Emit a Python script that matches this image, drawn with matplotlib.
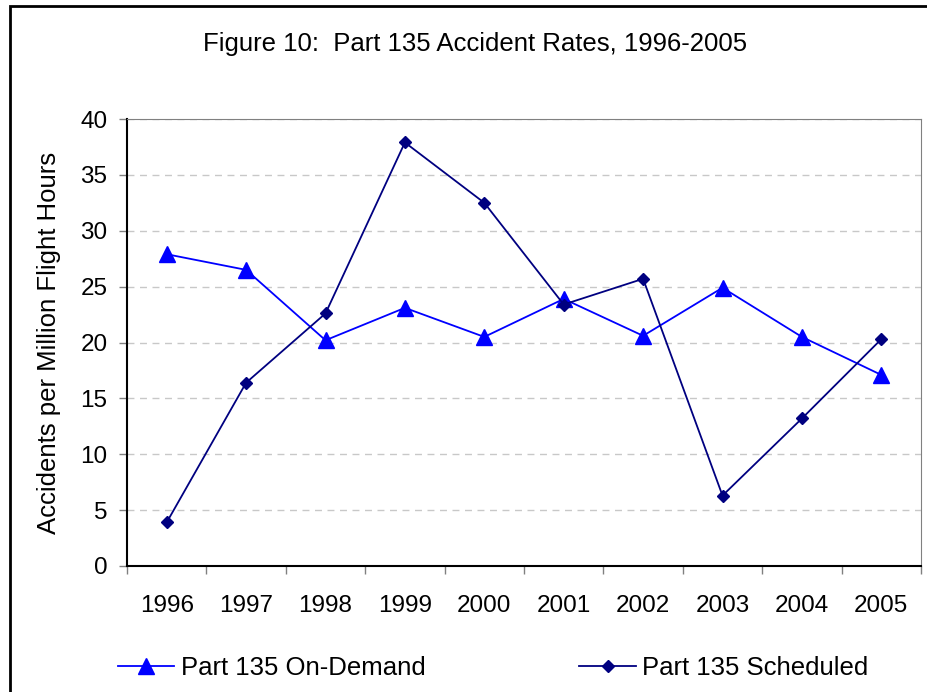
import numpy as np
import matplotlib.pyplot as plt
from matplotlib.patches import Rectangle

plt.rcParams['font.family'] = ['Liberation Sans', 'DejaVu Sans']

# Data
years = ['1996', '1997', '1998', '1999', '2000', '2001', '2002', '2003', '2004', '2005']
on_demand = [27.9, 26.5, 20.2, 23.1, 20.5, 23.9, 20.6, 24.9, 20.5, 17.1]
scheduled = [3.9, 16.4, 22.6, 37.9, 32.5, 23.4, 25.7, 6.3, 13.2, 20.3]

fig = plt.figure(figsize=(9.27, 6.92), dpi=100)
ax = fig.add_axes([127 / 927, 1 - 566 / 692, (921 - 127) / 927, (566 - 119) / 692])

x = np.arange(len(years))
ax.plot(x, on_demand, color='#0000ff', lw=1.3, marker='^', ms=12,
        label='Part 135 On-Demand')
ax.plot(x, scheduled, color='#000080', lw=1.3, marker='D', ms=6.5,
        label='Part 135 Scheduled')

ax.set_xlim(-0.5, len(years) - 0.5)
ax.set_ylim(0, 40)
ax.set_yticks(np.arange(0, 41, 5))
ax.set_xticks(x)
ax.set_xticklabels(years)
ax.set_xticks(np.arange(-0.5, len(years), 1), minor=True)
ax.tick_params(axis='x', which='major', length=0, pad=21, labelsize=17.5)
ax.tick_params(axis='x', which='minor', length=6, width=1, color='#808080')
ax.tick_params(axis='y', length=6, width=1, color='#808080', labelsize=17.5, pad=8)
ax.yaxis.grid(True, linestyle=(0, (5, 4)), color='#c8c8c8', lw=1)
ax.set_axisbelow(True)

for side in ['top', 'right']:
    ax.spines[side].set_color('#808080')
for side in ['left', 'bottom']:
    ax.spines[side].set_color('black')
    ax.spines[side].set_linewidth(1.5)

ax.set_ylabel('Accidents per Million Flight Hours', fontsize=18.5, labelpad=14)

fig.text(475 / 927, 1 - 44 / 692, 'Figure 10:  Part 135 Accident Rates, 1996-2005',
         ha='center', va='center', fontsize=18.5)

fig.legend(loc='center', bbox_to_anchor=(0.532, 1 - 668 / 692), ncol=2,
           frameon=False, fontsize=18.5, columnspacing=6.0, handlelength=2.2,
           handletextpad=0.25)

# outer chart border
fig.patches.append(Rectangle((10 / 927, -0.05), 1.1, 1 - 6 / 692 + 0.05,
                             transform=fig.transFigure, fill=False,
                             edgecolor='black', lw=2))

fig.savefig('out.png', dpi=100)
